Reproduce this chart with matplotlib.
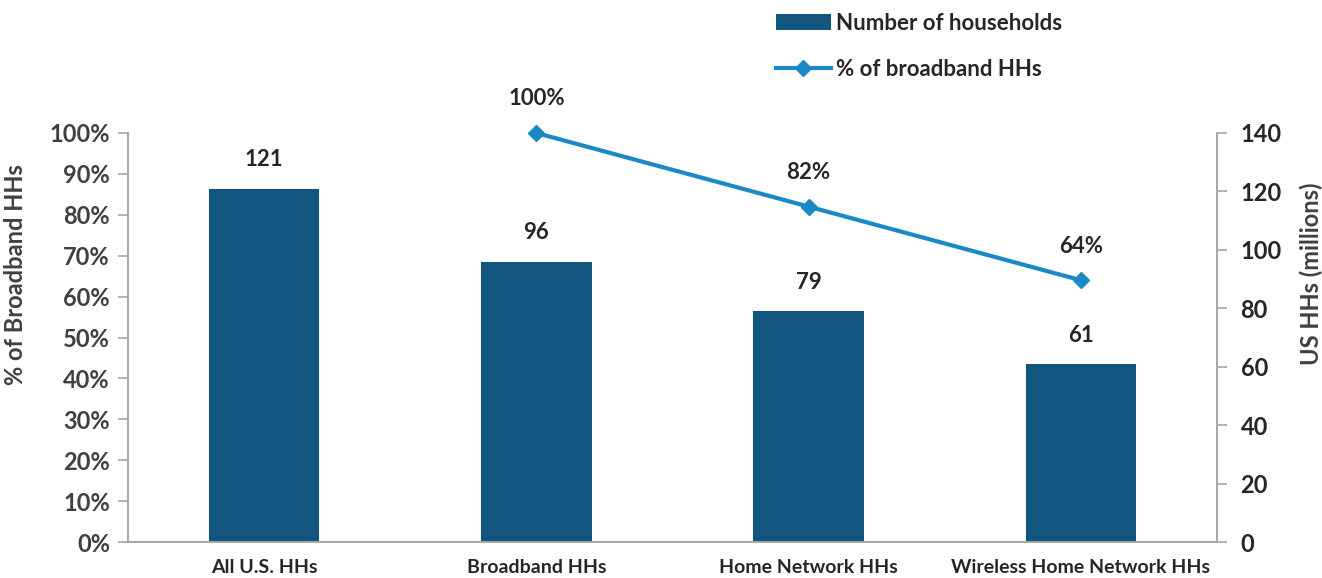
import matplotlib.pyplot as plt
from matplotlib.lines import Line2D
from matplotlib.patches import Patch

categories = ["All U.S. HHs", "Broadband HHs", "Home Network HHs", "Wireless Home Network HHs"]
households = [121, 96, 79, 61]          # millions, right axis
pct_broadband = [None, 100, 82, 64]     # %, left axis

bar_color = "#12557F"
line_color = "#1B88C8"
tick_color = "#404040"
text_color = "#262626"
spine_color = "#A6A6A6"

plt.rcParams["font.family"] = ["Lato", "DejaVu Sans"]
plt.rcParams["font.weight"] = "bold"

fig = plt.figure(figsize=(13.22, 5.78), dpi=100)
ax = fig.add_axes([128 / 1322, 1 - 542 / 578, 1089 / 1322, 409 / 578])
ax2 = ax.twinx()

x = list(range(len(categories)))

# bars on the right axis
ax2.bar(x, households, width=0.405, color=bar_color, zorder=2)
for xi, v in zip(x, households):
    ax2.annotate(str(v), (xi, v), xytext=(0, 13), textcoords="offset points",
                 ha="center", va="bottom", fontsize=16, fontweight="bold", color=text_color)
ax2.set_ylim(0, 140)
ax2.set_yticks(range(0, 141, 20))

# line on the left axis, drawn above bars
lx = [xi for xi, p in zip(x, pct_broadband) if p is not None]
ly = [p for p in pct_broadband if p is not None]
ax.plot(lx, ly, color=line_color, lw=3, marker="D", ms=8, zorder=3, clip_on=False)
for xi, p in zip(lx, ly):
    ax.annotate(f"{p}%", (xi, p), xytext=(0, 17), textcoords="offset points",
                ha="center", va="bottom", fontsize=16, fontweight="bold", color=text_color)
ax.set_ylim(0, 100)
ax.set_yticks(range(0, 101, 10))
ax.set_yticklabels([f"{t}%" for t in range(0, 101, 10)])
ax.set_zorder(ax2.get_zorder() + 1)
ax.patch.set_visible(False)

ax.set_xlim(-0.5, len(categories) - 0.5)
ax.set_xticks(x)
ax.set_xticklabels(categories, fontsize=14, fontweight="bold", color=text_color)
ax.tick_params(axis="x", length=0, pad=12)

for a in (ax, ax2):
    for s in a.spines.values():
        s.set_color(spine_color)
        s.set_linewidth(1.2)
    a.spines["top"].set_visible(False)
    a.tick_params(axis="y", colors=spine_color, labelcolor=tick_color,
                  labelsize=17, length=7, width=1.2, direction="out")

ax.tick_params(axis="y", labelcolor=tick_color, pad=6)
ax2.tick_params(axis="y", labelcolor=text_color, labelsize=17, pad=10)

ax.set_ylabel("% of Broadband HHs", fontsize=17, fontweight="bold", color=tick_color)
ax.yaxis.set_label_coords(-0.093, 0.655)
ax2.set_ylabel("US HHs (millions)", fontsize=17, fontweight="bold", color=tick_color)
ax2.yaxis.set_label_coords(1.076, 0.655)

handles = [Patch(facecolor=bar_color, edgecolor="none"),
           Line2D([0], [0], color=line_color, lw=3, marker="D", ms=8)]
fig.legend(handles, ["Number of households", "% of broadband HHs"],
           loc="upper left", bbox_to_anchor=(760 / 1322, 1.005), frameon=False,
           prop={"size": 16, "weight": "bold"}, handlelength=2.5, handletextpad=0.2,
           labelspacing=1.15, borderaxespad=0.3, labelcolor=text_color)

fig.savefig("out.png", dpi=100)
